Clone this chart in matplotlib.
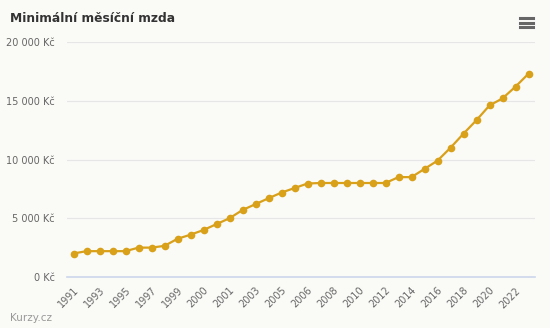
import matplotlib.pyplot as plt
from matplotlib.lines import Line2D
from matplotlib.ticker import FuncFormatter

# Data: minimum monthly wage (CZK) at each change
years = ["1991", "1992", "1993", "1994", "1995", "1996", "1997", "1998",
         "1999", "1999", "2000", "2000", "2001", "2002", "2003", "2004",
         "2005", "2006", "2006", "2007", "2008", "2009", "2010", "2011",
         "2012", "2013", "2014", "2015", "2016", "2017", "2018", "2019",
         "2020", "2021", "2022", "2023"]
wage = [2000, 2200, 2200, 2200, 2200, 2500, 2500, 2650,
        3250, 3600, 4000, 4500, 5000, 5700, 6200, 6700,
        7185, 7570, 7955, 8000, 8000, 8000, 8000, 8000,
        8000, 8500, 8500, 9200, 9900, 11000, 12200, 13350,
        14600, 15200, 16200, 17300]
y_ticks = [0, 5000, 10000, 15000, 20000]

bg = "#fafaf7"
fig = plt.figure(figsize=(5.5, 3.28), dpi=100, facecolor=bg)
ax = fig.add_axes([67 / 550, 1 - 277 / 328, 468 / 550, 235 / 328])
ax.set_facecolor(bg)

x = list(range(len(years)))
ax.plot(x, wage, color="#d9a01a", lw=1.6, marker="o", ms=5.5,
        markeredgewidth=0, zorder=3)

ax.set_xlim(-0.5, len(years) - 0.5)
ax.set_ylim(0, 20000)
ax.set_yticks(y_ticks)
ax.yaxis.set_major_formatter(
    FuncFormatter(lambda v, p: f"{int(v):,}".replace(",", " ") + " Kč"))
ax.grid(axis="y", color="#e6e6e6", lw=0.8)
ax.set_axisbelow(True)

ax.set_xticks(x[::2])
ax.set_xticklabels(years[::2], rotation=45, ha="right", rotation_mode="anchor")

for s in ["top", "right", "left"]:
    ax.spines[s].set_visible(False)
ax.spines["bottom"].set_color("#ccd6eb")
ax.spines["bottom"].set_linewidth(1.2)

ax.tick_params(axis="x", length=0, pad=6, labelsize=7, labelcolor="#666666")
ax.tick_params(axis="y", length=0, pad=9, labelsize=7, labelcolor="#666666")

fig.text(10 / 550, 1 - 18 / 328, "Minimální měsíční mzda", fontsize=8.8,
         fontweight="bold", color="#333333", va="center", ha="left")
fig.text(10 / 550, 1 - 318 / 328, "Kurzy.cz", fontsize=7.5,
         color="#999999", va="center", ha="left")

# menu icon
for yy in (18, 22.5, 27):
    fig.add_artist(Line2D([520 / 550, 533 / 550], [1 - yy / 328, 1 - yy / 328],
                          color="#666666", lw=2.2, transform=fig.transFigure))

fig.savefig("out.png", dpi=100, facecolor=bg)
